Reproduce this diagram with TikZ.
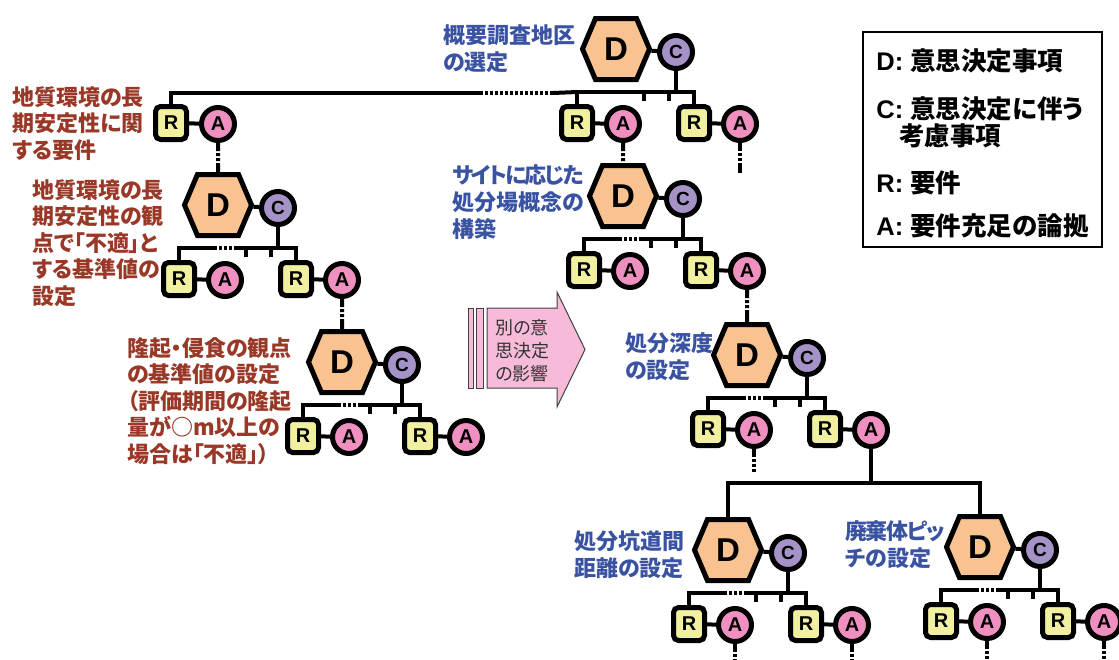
\documentclass[tikz,border=0pt]{standalone}
\usepackage{fontspec}
\setmainfont{Liberation Sans}
\newfontfamily\jp{Noto Sans CJK JP}[RawFeature=+palt]
\usetikzlibrary{shapes.symbols,positioning}

\definecolor{dfill}{HTML}{F8C291}
\definecolor{cfill}{HTML}{A593C8}
\definecolor{rfill}{HTML}{F0F0A0}
\definecolor{afill}{HTML}{F090C0}
\definecolor{infl}{HTML}{F7BBD9}
\definecolor{brn}{HTML}{9A3828}
\definecolor{blu}{HTML}{3A52A2}

\tikzset{
  dnode/.style={signal, signal to=west and east, signal pointer angle=134, draw, line width=5pt,
    fill=dfill, minimum width=67pt, minimum height=61pt, inner sep=0pt,
    font=\bfseries\fontsize{33}{33}\selectfont},
  cnode/.style={circle, draw, line width=5pt, fill=cfill, minimum size=33pt, inner sep=0pt,
    font=\bfseries\fontsize{19}{19}\selectfont},
  rnode/.style={rectangle, rounded corners=5pt, draw, line width=5pt, fill=rfill,
    minimum width=31pt, minimum height=33pt, inner sep=0pt, font=\bfseries\fontsize{20}{20}\selectfont},
  anode/.style={circle, draw, line width=5pt, fill=afill, minimum size=33pt, inner sep=0pt,
    font=\bfseries\fontsize{20}{20}\selectfont},
  wire/.style={line width=4pt},
  dots/.style={wire, dash pattern=on 3pt off 2pt},
  aline/.style={wire, dash pattern=on 8pt off 2pt on 3pt off 2pt on 3pt off 2pt on 800pt},
  blulbl/.style={anchor=north west, align=left, inner sep=0pt, text=blu,
    font=\jp\bfseries\fontsize{22}{27}\selectfont},
  brnlbl/.style={anchor=north west, align=left, inner sep=0pt, text=brn,
    font=\jp\bfseries\fontsize{22}{26.5}\selectfont}
}

\begin{document}
\begin{tikzpicture}[x=1pt,y=-1pt]
\useasboundingbox (0,0) rectangle (1119,659);

% decision units: D, C, two R-A pairs and the bar below C
\foreach \n/\x/\y/\pre in {1/616/49/900,2/218/205/50,3/342/362/50,4/623/196/50,5/747/355/50,6/728/550/50,7/980/547/50}{
  \node[dnode] (d\n) at (\x,\y) {D};
  \node[cnode] (c\n) at (\x+60,\y+3) {C};
  \node[rnode] (rl\n) at (\x-39,\y+74) {R};
  \node[anode] (al\n) at (\x+7,\y+75) {A};
  \node[rnode] (rr\n) at (\x+78,\y+74) {R};
  \node[anode] (ar\n) at (\x+124,\y+75) {A};
  \coordinate (b\n) at (\x+60,\y+43);
  \draw[wire] (d\n) -- (c\n);
  \draw[wire] (rl\n) -- (al\n);
  \draw[wire] (rr\n) -- (ar\n);
  \draw[wire] (c\n) -- (b\n);
  \draw[wire, dash pattern=on \pre pt off 2pt on 3pt off 2pt on 3pt off 2pt on 3pt off 2pt on 900pt]
    (rl\n.north) |- (b\n) -| (rr\n.north);
  \draw[wire] (\x+28,\y+43) -- (\x+28,\y+52) (\x+53,\y+43) -- (\x+53,\y+52);
}

% extra requirement on the top bar
\node[rnode] (rl0) at (171,123) {R};
\node[anode] (al0) at (218,124) {A};
\draw[wire] (rl0) -- (al0);
\coordinate (g1) at (480,93);
\coordinate (g2) at (553,93);
\draw[wire] (rl0.north) |- (g1);
\draw[dots] (g1) -- (g2);
\draw[wire] (g2) -- (rl1.north |- b1);

% links from A to the next decision
\draw[aline] (al0) -- (d2);
\draw[aline] (ar2) -- (d3);
\draw[aline] (al1) -- (d4);
\draw[aline] (ar4) -- (d5);
\draw[aline] (ar1) -- (ar1 |- 0,173);
\draw[aline] (al5) -- (al5 |- 0,472);
\foreach \m in {al6,ar6,al7,ar7}
  \draw[aline] (\m) -- (\m |- 0,664);
\coordinate (sp) at (ar5 |- 0,483);
\draw[wire] (ar5) -- (sp);
\draw[wire] (d6) |- (sp) -| (d7);

% labels
\node[brnlbl] (t0) at (12,86) {地質環境の長\\期安定性に関\\する要件};
\node[brnlbl] (t2) at (32,179) {地質環境の長\\期安定性の観\\点で「不適」と\\する基準値の\\設定};
\node[brnlbl] (t3) at (127,337) {隆起・侵食の観点\\の基準値の設定\\（評価期間の隆起\\量が○m以上の\\場合は「不適」）};
\node[blulbl] (t1) at (443,24) {概要調査地区\\の選定};
\node[blulbl] (t4) at (452,164) {{\addfontfeature{LetterSpace=-9}サイトに応じた}\\処分場概念の\\構築};
\node[blulbl] (t5) at (625,332) {処分深度\\の設定};
\node[blulbl] (t6) at (574,530) {処分坑道間\\距離の設定};
\node[blulbl] (t7) at (845,520) {{\addfontfeature{LetterSpace=-6}廃棄体ピッ}\\チの設定};

% influence of other decisions
\draw[black!75, line width=1pt, fill=infl] (468,308) rectangle (473,388);
\draw[black!75, line width=1pt, fill=infl] (476,308) rectangle (483,388);
\draw[black!75, line width=1pt, fill=infl] (487,308) -- (557,308) -- (557,292) -- (585,349.5)
  -- (557,407) -- (557,388) -- (487,388) -- cycle;
\node[align=center, text=black!80, font=\jp\fontsize{18}{23}\selectfont] (inf) at (522,351) {別の意\\思決定\\の影響};

% legend
\node[draw, line width=1.5pt, minimum width=239pt, minimum height=215pt, align=left,
  font=\bfseries\fontsize{25.5}{27}\selectfont] (leg) at (982.5,139.5)
  {\rule{0pt}{30pt}D: {\jp 意思決定事項}\\[21pt]
   C: {\jp 意思決定に伴う}\\
   \hspace*{23pt}{\jp 考慮事項}\\[20pt]
   R: {\jp 要件}\\[16pt]
   A: {\jp 要件充足の論拠}};
\end{tikzpicture}
\end{document}
